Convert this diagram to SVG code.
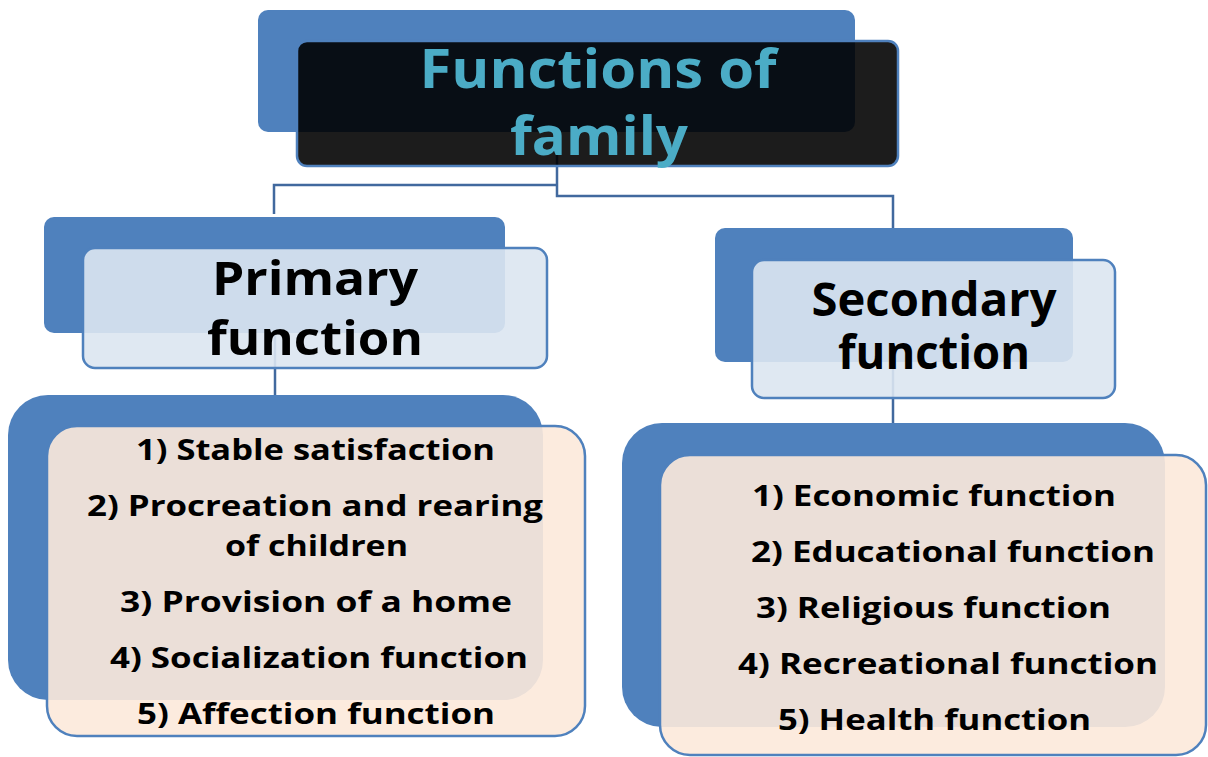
<svg xmlns="http://www.w3.org/2000/svg" width="1208" height="757" viewBox="0 0 1208 757">
<style>
.back{fill:#4F81BD;}
.hdr{fill:#DCE5F1;fill-opacity:0.9;stroke:#4F81BD;stroke-width:2.5;}
.list{fill:#FCE9DA;fill-opacity:0.9;stroke:#4F81BD;stroke-width:2.5;}
.top{fill:#000000;fill-opacity:0.89;stroke:#4F81BD;stroke-width:2.5;}
.conn{fill:none;stroke:#41699E;stroke-width:2.5;}
text{font-family:"Open Sans","Noto Sans","Liberation Sans",sans-serif;font-weight:bold;font-variant-ligatures:none;}
.t{fill:#4BACC6;font-size:54px;text-anchor:middle;}
.h{fill:#000;font-size:46px;text-anchor:middle;}
.l{fill:#000;font-size:29px;}
</style>
<rect width="1208" height="757" fill="#ffffff"/>
<g id="connectors">
<polyline class="conn" points="274,214 274,185 557,185"/>
<polyline class="conn" points="557,132 557,196 893,196 893,228"/>
<line class="conn" x1="275" y1="333" x2="275" y2="395"/>
<line class="conn" x1="893" y1="362" x2="893" y2="423"/>
</g>
<g id="node-root">
<rect class="back" x="258" y="10" width="597" height="122" rx="10"/>
<rect class="top" x="297" y="41" width="601" height="125" rx="10"/>
<text class="t" x="598" y="88" textLength="357" lengthAdjust="spacingAndGlyphs">Functions of</text>
<text class="t" x="599" y="155" textLength="178" lengthAdjust="spacingAndGlyphs">family</text>
</g>
<g id="node-primary">
<rect class="back" x="44" y="217" width="461" height="116" rx="10"/>
<rect class="hdr" x="83" y="248" width="464" height="120" rx="12"/>
<text class="h" x="315" y="295" textLength="206" lengthAdjust="spacingAndGlyphs">Primary</text>
<text class="h" x="315" y="355" textLength="216" lengthAdjust="spacingAndGlyphs">function</text>
</g>
<g id="node-secondary">
<rect class="back" x="715" y="228" width="358" height="134" rx="10"/>
<rect class="hdr" x="752" y="260" width="363" height="138" rx="12"/>
<text class="h" x="934" y="316" textLength="245" lengthAdjust="spacingAndGlyphs">Secondary</text>
<text class="h" x="934" y="369" textLength="192" lengthAdjust="spacingAndGlyphs">function</text>
</g>
<g id="node-primary-list">
<rect class="back" x="8" y="395" width="535" height="305" rx="40"/>
<rect class="list" x="47" y="426" width="538" height="310" rx="30"/>
<text class="l" x="136" y="460" textLength="359" lengthAdjust="spacingAndGlyphs">1) Stable satisfaction</text>
<text class="l" x="87" y="516" textLength="456" lengthAdjust="spacingAndGlyphs">2) Procreation and rearing</text>
<text class="l" x="225" y="556" textLength="183" lengthAdjust="spacingAndGlyphs">of children</text>
<text class="l" x="120" y="612" textLength="392" lengthAdjust="spacingAndGlyphs">3) Provision of a home</text>
<text class="l" x="110" y="668" textLength="418" lengthAdjust="spacingAndGlyphs">4) Socialization function</text>
<text class="l" x="137" y="724" textLength="358" lengthAdjust="spacingAndGlyphs">5) Affection function</text>
</g>
<g id="node-secondary-list">
<rect class="back" x="622" y="423" width="543" height="304" rx="40"/>
<rect class="list" x="660" y="455" width="546" height="300" rx="30"/>
<text class="l" x="752" y="506" textLength="364" lengthAdjust="spacingAndGlyphs">1) Economic function</text>
<text class="l" x="751" y="562" textLength="404" lengthAdjust="spacingAndGlyphs">2) Educational function</text>
<text class="l" x="756" y="618" textLength="355" lengthAdjust="spacingAndGlyphs">3) Religious function</text>
<text class="l" x="738" y="674" textLength="420" lengthAdjust="spacingAndGlyphs">4) Recreational function</text>
<text class="l" x="778" y="730" textLength="313" lengthAdjust="spacingAndGlyphs">5) Health function</text>
</g>
</svg>
